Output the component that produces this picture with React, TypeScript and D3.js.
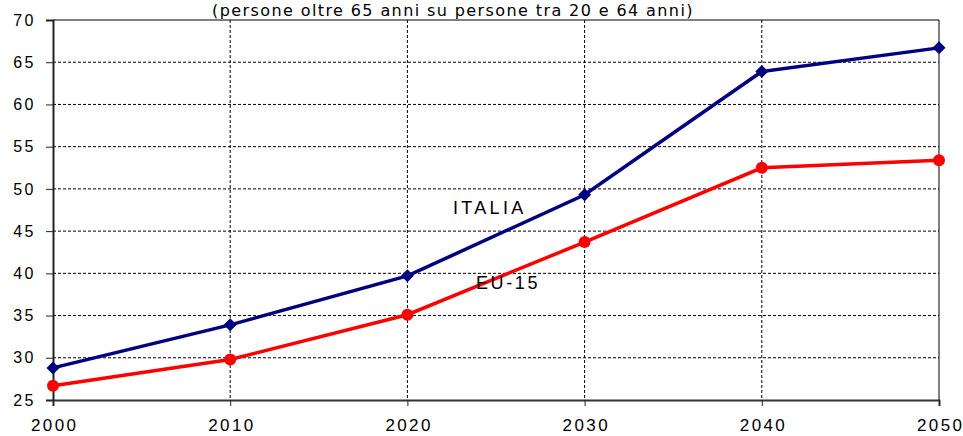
import * as d3 from "d3";
import { useRef, useEffect } from "react";

// anni e valori
const years = [2000, 2010, 2020, 2030, 2040, 2050];
const italia = [28.8, 33.9, 39.7, 49.3, 63.9, 66.7];
const eu15 = [26.7, 29.8, 35.1, 43.7, 52.5, 53.4];
const yTicks = [25, 30, 35, 40, 45, 50, 55, 60, 65, 70];
const subtitle = "(persone oltre 65 anni su persone tra 20 e 64 anni)";

export default function App() {
  const svgRef = useRef<SVGSVGElement>(null);

  useEffect(() => {
    const svg = d3.select(svgRef.current);
    svg.selectAll("*").remove();

    const margin = { top: 20, right: 24, bottom: 36, left: 53 };
    const width = 963 - margin.left - margin.right;
    const height = 436 - margin.top - margin.bottom;

    const x = d3.scaleLinear().domain([2000, 2050]).range([0, width]);
    const y = d3.scaleLinear().domain([25, 70]).range([height, 0]);

    const g = svg.append("g").attr("transform", `translate(${margin.left},${margin.top})`);
    const font = "'Liberation Sans', Arial, sans-serif";

    // griglia tratteggiata
    g.selectAll("line.hgrid").data(yTicks.slice(1, -1)).enter().append("line")
      .attr("x1", 0).attr("x2", width).attr("y1", d => y(d)).attr("y2", d => y(d))
      .attr("stroke", "#000").attr("stroke-width", 1).attr("stroke-dasharray", "3,2");
    g.selectAll("line.vgrid").data(years.slice(1, -1)).enter().append("line")
      .attr("x1", d => x(d)).attr("x2", d => x(d)).attr("y1", 0).attr("y2", height)
      .attr("stroke", "#000").attr("stroke-width", 1).attr("stroke-dasharray", "3,2");

    // bordo superiore e destro
    g.append("line").attr("x1", 0).attr("x2", width).attr("y1", 0).attr("y2", 0).attr("stroke", "#000");
    g.append("line").attr("x1", width).attr("x2", width).attr("y1", 0).attr("y2", height).attr("stroke", "#000");

    // asse y
    const yAxis = g.append("g").call(d3.axisLeft(y).tickValues(yTicks).tickSize(7).tickPadding(10));
    yAxis.select(".domain").attr("stroke", "#222").attr("stroke-width", 2);
    yAxis.selectAll(".tick line").attr("stroke", "#222");
    yAxis.selectAll("text").attr("font-family", font).attr("font-size", 16).attr("letter-spacing", 2.5).attr("fill", "#000");

    // asse x
    const xAxis = g.append("g").attr("transform", `translate(0,${height})`)
      .call(d3.axisBottom(x).tickValues(years).tickFormat(d3.format("d")).tickSize(6).tickPadding(13));
    xAxis.select(".domain").attr("stroke", "#333").attr("stroke-width", 2);
    xAxis.selectAll(".tick line").attr("stroke", "#222");
    xAxis.selectAll("text").attr("font-family", font).attr("font-size", 17).attr("letter-spacing", 2.4)
      .attr("fill", "#000").attr("dx", 1.2);

    const line = d3.line<number>().x((_, i) => x(years[i])).y(d => y(d));

    // EU-15
    g.append("path").datum(eu15).attr("d", line).attr("fill", "none").attr("stroke", "#ff0000").attr("stroke-width", 3.5);
    g.selectAll("circle.eu").data(eu15).enter().append("circle")
      .attr("cx", (_, i) => x(years[i])).attr("cy", d => y(d)).attr("r", 6).attr("fill", "#ff0000");

    // ITALIA
    g.append("path").datum(italia).attr("d", line).attr("fill", "none").attr("stroke", "#000080").attr("stroke-width", 3.5);
    g.selectAll("path.it").data(italia).enter().append("path")
      .attr("d", "M0,-6.5L6.5,0L0,6.5L-6.5,0Z")
      .attr("transform", (d, i) => `translate(${x(years[i])},${y(d)})`).attr("fill", "#000080");

    // etichette serie
    g.append("text").attr("x", 453 - margin.left).attr("y", 214 - margin.top)
      .attr("font-family", font).attr("font-size", 18).attr("letter-spacing", 3.3).text("ITALIA");
    g.append("text").attr("x", 476 - margin.left).attr("y", 289 - margin.top)
      .attr("font-family", font).attr("font-size", 18).attr("letter-spacing", 2.6).text("EU-15");

    // sottotitolo
    svg.append("text").attr("x", 453).attr("y", 15.5).attr("text-anchor", "middle")
      .attr("font-family", "'DejaVu Sans', Verdana, sans-serif").attr("font-size", 16).attr("letter-spacing", 1.4)
      .text(subtitle);
  }, []);

  return (
    <svg ref={svgRef} width={963} height={436} style={{ position: "absolute", left: 0, top: 0, background: "#fff" }} />
  );
}
